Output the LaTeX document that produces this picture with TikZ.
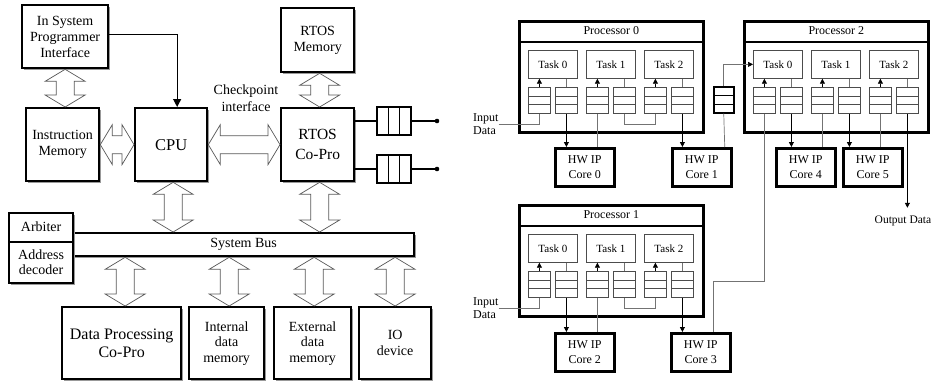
\documentclass[tikz,border=0pt]{standalone}
\usepackage{fontspec}
\setmainfont{Liberation Serif}
\usetikzlibrary{arrows.meta,shadows,calc}

% hollow two-headed bus arrows: vertical (top point, bottom point)
\newcommand\vhollow[2]{%
  \path[hollow] let \p1=#1, \p2=#2 in
    (\x1,\y1) -- (\x1+20pt,\y1-12pt) -- (\x1+9pt,\y1-12pt) -- (\x1+9pt,\y2+12pt)
    -- (\x1+20pt,\y2+12pt) -- (\x1,\y2) -- (\x1-20pt,\y2+12pt) -- (\x1-9pt,\y2+12pt)
    -- (\x1-9pt,\y1-12pt) -- (\x1-20pt,\y1-12pt) -- cycle;}
% horizontal (left point, right point)
\newcommand\hhollow[2]{%
  \path[hollow] let \p1=#1, \p2=#2 in
    (\x1,\y1) -- (\x1+12pt,\y1+20pt) -- (\x1+12pt,\y1+9pt) -- (\x2-12pt,\y1+9pt)
    -- (\x2-12pt,\y1+20pt) -- (\x2,\y1) -- (\x2-12pt,\y1-20pt) -- (\x2-12pt,\y1-9pt)
    -- (\x1+12pt,\y1-9pt) -- (\x1+12pt,\y1-20pt) -- cycle;}

% a processor with its title bar, three tasks and their in/out queues
\newcommand\processor[4]{%
  \node[proc] (#1) at (#2,#3) {};
  \draw[line width=2pt] ([yshift=-22pt]#1.north west) -- ([yshift=-22pt]#1.north east);
  \node[font=\fontsize{12}{14}\selectfont] (#1-title) at ([yshift=-11pt]#1.north) {#4};
  \foreach \t/\dx in {0/10,1/68,2/126} {
    \node[task] (#1-t\t) at (#2+\dx,#3+30) {Task \t};
    \node[qbox] (#1-a\t) at (#2+\dx,#3+67) {};
    \node[qbox] (#1-b\t) at (#2+\dx+27,#3+67) {};
    \draw[feed] (#1-a\t.north) -- (#1-a\t.north |- #1-t\t.south);
    \draw[wire] (#1-b\t.north |- #1-t\t.south) -- (#1-b\t.north);
  }}

\begin{document}
\begin{tikzpicture}[x=1pt,y=-1pt,
  shadowed/.style={drop shadow={shadow xshift=1.8pt,shadow yshift=-1.8pt,fill=black!40,opacity=1}},
  unit/.style={draw,line width=2.3pt,fill=white,shadowed,anchor=north west,align=center,
    inner sep=0pt,font=\fontsize{14}{16}\selectfont},
  hollow/.style={draw=black!65,line width=0.7pt,fill=white,line join=miter},
  lfifo/.style={draw,line width=1.6pt,fill=white,minimum width=34pt,minimum height=28pt,inner sep=0pt,
    path picture={\draw[line width=1.4pt]
      ([xshift=11.33pt]path picture bounding box.north west) -- ([xshift=11.33pt]path picture bounding box.south west)
      ([xshift=-11.33pt]path picture bounding box.north east) -- ([xshift=-11.33pt]path picture bounding box.south east);}},
  proc/.style={draw,line width=2.7pt,fill=white,shadowed,minimum width=184pt,minimum height=111pt,
    anchor=north west,inner sep=0pt},
  core/.style={draw,line width=2.5pt,fill=white,shadowed,minimum width=59pt,minimum height=38pt,
    anchor=north west,align=center,inner sep=0pt,font=\fontsize{12}{15}\selectfont},
  task/.style={draw=black!70,line width=0.7pt,fill=white,minimum width=49pt,minimum height=28pt,
    anchor=north west,inner sep=0pt,font=\fontsize{11}{13}\selectfont},
  qbox/.style={draw=black!70,line width=0.8pt,fill=white,minimum width=22pt,minimum height=26pt,
    anchor=north west,inner sep=0pt,
    path picture={\draw[line width=0.8pt]
      ([yshift=-8.67pt]path picture bounding box.north west) -- ([yshift=-8.67pt]path picture bounding box.north east)
      ([yshift=8.67pt]path picture bounding box.south west) -- ([yshift=8.67pt]path picture bounding box.south east);}},
  wire/.style={draw=black!55,line width=0.7pt},
  feed/.style={draw=black,line width=0.8pt,-{Triangle[length=5pt,width=5pt]}},
  lbl/.style={font=\fontsize{12}{13.3}\selectfont,inner sep=0pt}
]
\useasboundingbox (0,0) rectangle (932,383);

% ---------------- system architecture ----------------
\node[unit,minimum width=86pt,minimum height=63pt] (isp) at (21,4) {In System\\Programmer\\Interface};
\node[unit,minimum width=73pt,minimum height=64pt] (rtosmem) at (280,7) {RTOS\\Memory};
\node[unit,minimum width=73pt,minimum height=73pt] (imem) at (25,107) {Instruction\\Memory};
\node[unit,minimum width=72pt,minimum height=73pt,font=\fontsize{16.5}{19}\selectfont] (cpu) at (134,107) {CPU};
\node[unit,minimum width=73pt,minimum height=73pt,font=\fontsize{15.5}{19.5}\selectfont] (rtos) at (280,107) {RTOS\\Co-Pro};
\node[unit,minimum width=341pt,minimum height=23pt] (bus) at (72,232) {System Bus};
\node[unit,minimum width=64pt,minimum height=70pt] (arb) at (8,212) {};
\draw[line width=1.6pt] ([yshift=-30pt]arb.north west) -- ([yshift=-30pt]arb.north east);
\node[font=\fontsize{14}{16}\selectfont] (arbtxt) at ($(arb.north)+(0,15)$) {Arbiter};
\node[font=\fontsize{14}{15}\selectfont,align=center] (dectxt) at ($(arb.north)+(0,50)$) {Address\\decoder};
\node[unit,minimum width=119pt,minimum height=72pt,font=\fontsize{16}{18.5}\selectfont] (dp) at (61,306) {Data Processing\\Co-Pro};
\node[unit,minimum width=75pt,minimum height=72pt,font=\fontsize{14}{15.5}\selectfont] (intm) at (188,306) {Internal\\data\\memory};
\node[unit,minimum width=77pt,minimum height=72pt,font=\fontsize{14}{15.5}\selectfont] (extm) at (273,306) {External\\data\\memory};
\node[unit,minimum width=72pt,minimum height=72pt,font=\fontsize{14}{16.5}\selectfont] (io) at (358,306) {IO\\device};

\node[font=\fontsize{14}{16.5}\selectfont,align=center] (chk) at (246,98) {Checkpoint\\interface};

% programming path into the CPU
\draw[line width=1.2pt,-{Triangle[length=8pt,width=8pt]}] ([yshift=2.5pt]isp.east) -| ([xshift=6pt]cpu.north);

% bus-style double arrows
\vhollow{(isp.south)}{(isp.south |- imem.north)}
\hhollow{(imem.east)}{(cpu.west)}
\hhollow{(cpu.east)}{(rtos.west)}
\vhollow{([xshift=2pt]rtosmem.south)}{([xshift=2pt]rtosmem.south |- rtos.north)}
\vhollow{([xshift=2pt]cpu.south)}{([xshift=2pt]cpu.south |- bus.north)}
\vhollow{([xshift=2pt]rtos.south)}{([xshift=2pt]rtos.south |- bus.north)}
\vhollow{([xshift=3.5pt]dp.north |- bus.south)}{([xshift=3.5pt]dp.north)}
\vhollow{([xshift=2.5pt]intm.north |- bus.south)}{([xshift=2.5pt]intm.north)}
\vhollow{([xshift=1.5pt]extm.north |- bus.south)}{([xshift=1.5pt]extm.north)}
\vhollow{(io.north |- bus.south)}{(io.north)}

% RTOS event queues
\node[lfifo] (q1) at (394,121) {};
\node[lfifo] (q2) at (394,169) {};
\coordinate (d1) at (437,121);
\coordinate (d2) at (437,169);
\draw[line width=1.2pt] (rtos.east |- q1.west) -- (q1.west) (q1.east) -- (d1);
\draw[line width=1.2pt] (rtos.east |- q2.west) -- (q2.west) (q2.east) -- (d2);
\fill (d1) circle (2.3pt);
\fill (d2) circle (2.3pt);

% ---------------- multiprocessor task mapping ----------------
\processor{p0}{518}{20}{Processor 0}
\processor{p1}{518}{204}{Processor 1}
\processor{p2}{743}{20}{Processor 2}

\node[core] (c0) at (554,147) {HW IP\\Core 0};
\node[core] (c1) at (671,147) {HW IP\\Core 1};
\node[core] (c4) at (775,147) {HW IP\\Core 4};
\node[core] (c5) at (842,147) {HW IP\\Core 5};
\node[core] (c2) at (554,332) {HW IP\\Core 2};
\node[core] (c3) at (670,332) {HW IP\\Core 3};

\node[lbl,align=left,anchor=west] (in0) at (473,124) {Input\\Data};
\node[lbl,align=left,anchor=west] (in1) at (473,308) {Input\\Data};
\node[font=\fontsize{11.5}{13}\selectfont,inner sep=0pt] (out) at (903,221) {Output Data};

% processor 0
\draw[wire] (in0.east) -| (p0-a0.south);
\draw[feed] (p0-b0.south) -- (p0-b0.south |- c0.north);
\draw[wire] (p0-a1.south |- c0.north) -- (p0-a1.south);
\draw[wire] (p0-b1.south) -- ++(0,11) -| (p0-a2.south);
\draw[feed] (p0-b2.south) -- (p0-b2.south |- c1.north);

% processor 1
\draw[wire] (in1.east) -| (p1-a0.south);
\draw[feed] (p1-b0.south) -- (p1-b0.south |- c2.north);
\draw[wire] (p1-a1.south |- c2.north) -- (p1-a1.south);
\draw[wire] (p1-b1.south) -- ++(0,11) -| (p1-a2.south);
\draw[feed] (p1-b2.south) -- (p1-b2.south |- c3.north);

% core 1 to processor 2 through a link queue
\coordinate (c1up) at ([xshift=23pt]c1.north);
\node[qbox,draw=black,line width=1.5pt,minimum width=20pt] (link) at (713,86) {};
\draw[wire] (c1up) -- (link.south);
\draw[wire,-{Triangle[length=5pt,width=5pt,color=black]}] (link.north) |- (p2-t0.west);

% core 3 to processor 2
\coordinate (c3up) at ([xshift=13pt]c3.north);
\draw[wire] (c3up) -- ++(0,-51) -| (p2-a0.south);

% processor 2
\draw[feed] (p2-b0.south) -- (p2-b0.south |- c4.north);
\draw[wire] (p2-a1.south |- c4.north) -- (p2-a1.south);
\draw[feed] (p2-b1.south) -- (p2-b1.south |- c5.north);
\draw[wire] (p2-a2.south |- c5.north) -- (p2-a2.south);
\draw[feed] (p2-b2.south) -- ($(p2-b2.south |- out.north)+(0,-8)$);
\end{tikzpicture}
\end{document}
